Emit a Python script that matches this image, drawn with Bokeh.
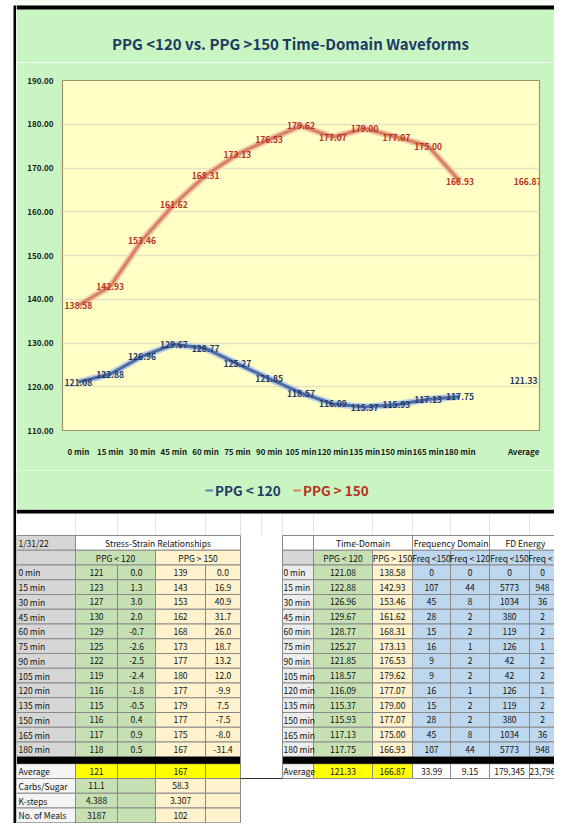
from bokeh.plotting import figure
from bokeh.models import (FactorRange, Range1d, FixedTicker, NumeralTickFormatter,
                          Legend, LegendItem, ColumnDataSource)
from bokeh.layouts import column, row
from bokeh.core.properties import value
from bokeh.embed import file_html
from bokeh.resources import INLINE

# ---------------- data ----------------
times = ["0 min", "15 min", "30 min", "45 min", "60 min", "75 min", "90 min",
         "105 min", "120 min", "135 min", "150 min", "165 min", "180 min"]
ppg_lt120 = [121.08, 122.88, 126.96, 129.67, 128.77, 125.27, 121.85,
             118.57, 116.09, 115.37, 115.93, 117.13, 117.75]
ppg_gt150 = [138.58, 142.93, 153.46, 161.62, 168.31, 173.13, 176.53,
             179.62, 177.07, 179.00, 177.07, 175.00, 166.93]
avg_lt120 = 121.33
avg_gt150 = 166.87
y_ticks = [110, 120, 130, 140, 150, 160, 170, 180, 190]
title_text = "PPG <120 vs. PPG >150 Time-Domain Waveforms"
series_names = ["PPG < 120", "PPG > 150"]

# stress-strain table
ss_lt120 = [121, 123, 127, 130, 129, 125, 122, 119, 116, 115, 116, 117, 118]
ss_lt120_d = [0.0, 1.3, 3.0, 2.0, -0.7, -2.6, -2.5, -2.4, -1.8, -0.5, 0.4, 0.9, 0.5]
ss_gt150 = [139, 143, 153, 162, 168, 173, 177, 180, 177, 179, 177, 175, 167]
ss_gt150_d = [0.0, 16.9, 40.9, 31.7, 26.0, 18.7, 13.2, 12.0, -9.9, 7.5, -7.5, -8.0, -31.4]
ss_avg = [121, 167]
carbs = [11.1, 58.3]
ksteps = [4.388, 3.307]
meals = [3187, 102]

# frequency tables
freq_lt150 = [0, 107, 45, 28, 15, 16, 9, 9, 16, 15, 28, 45, 107]
freq_lt120 = [0, 44, 8, 2, 2, 1, 2, 2, 1, 2, 2, 8, 44]
fd_lt150 = [0, 5773, 1034, 380, 119, 126, 42, 42, 126, 119, 380, 1034, 5773]
fd_lt120 = [0, 948, 36, 2, 2, 1, 2, 2, 1, 2, 2, 36, 948]
right_avg = [121.33, 166.87, 33.99, 9.15, 179345, 23796]

# ---------------- styles ----------------
FONT = "Noto Sans CJK SC"
GREEN_BG = "#c8f5c2"
PLOT_BG = "#ffffc6"
NAVY = "#1f3864"
RED = "#b8301f"
BLUE_LINE = "#4d6ca2"
BLUE_GLOW = "#b9cbe4"
ORANGE_LINE = "#d8835f"
ORANGE_GLOW = "#f2c6ad"
W = 554
H = 823


def blank(width, height, x0, x1, y0, y1, bg):
    f = figure(width=width, height=height, x_range=Range1d(x0, x1), y_range=Range1d(y1, y0),
               x_axis_location=None, y_axis_location=None, min_border=0,
               output_backend="svg", toolbar_location=None,
               background_fill_color=bg, border_fill_color=bg)
    f.grid.visible = False
    f.outline_line_color = None
    return f


# ---------------- left strip ----------------
strip = blank(16, H, 0, 16, 0, H, "white")
strip.quad(left=[13], right=[16], top=[5], bottom=[H], fill_color="black", line_color=None)

# ---------------- title ----------------
tf = blank(W - 16, 62, 16, W, 0, 62, GREEN_BG)
tf.quad(left=[16], right=[W], top=[0], bottom=[5], fill_color="white", line_color=None)
tf.quad(left=[16], right=[W], top=[5], bottom=[9], fill_color="black", line_color=None)
tf.text(x=[290], y=[43], text=[title_text], text_align="center", text_baseline="middle",
        text_font=value(FONT), text_font_size="15px", text_font_style="bold", text_color=NAVY)

# ---------------- chart ----------------
factors = times + [" ", "Average"]
p = figure(width=W - 16, height=408, x_range=FactorRange(factors=factors),
           y_range=Range1d(110, 190), output_backend="svg", toolbar_location=None,
           min_border_left=46, min_border_right=15, min_border_top=18, min_border_bottom=40,
           background_fill_color=PLOT_BG, border_fill_color=GREEN_BG)
p.outline_line_color = "#9c9466"
p.outline_line_width = 1.2
p.xgrid.grid_line_color = None
p.ygrid.grid_line_color = "#e4e4c4"
p.ygrid.grid_line_width = 1.5
p.yaxis.ticker = FixedTicker(ticks=y_ticks)
p.yaxis.formatter = NumeralTickFormatter(format="0.00")
for ax in (p.xaxis[0], p.yaxis[0]):
    ax.axis_line_color = None
    ax.major_tick_line_color = None
    ax.minor_tick_line_color = None
    ax.major_tick_in = 0
    ax.major_tick_out = 0
    ax.major_label_text_font = FONT
    ax.major_label_text_font_size = "8px"
    ax.major_label_text_font_style = "bold"
    ax.major_label_text_color = "#1a1a1a"
p.yaxis.major_label_standoff = 9
p.xaxis.major_label_standoff = 15

p.line(times, ppg_gt150, line_color=ORANGE_GLOW, line_width=7, line_alpha=0.9, line_join="round")
p.line(times, ppg_gt150, line_color=ORANGE_LINE, line_width=3.2, line_join="round")
p.line(times, ppg_lt120, line_color=BLUE_GLOW, line_width=7, line_alpha=0.9, line_join="round")
p.line(times, ppg_lt120, line_color=BLUE_LINE, line_width=3.2, line_join="round")

lab_x = times + ["Average"]
p.text(x=lab_x, y=ppg_gt150 + [avg_gt150], text=[f"{v:.2f}" for v in ppg_gt150 + [avg_gt150]],
       x_offset=[0] * len(times) + [4],
       text_align="center", text_baseline="middle", text_font=value(FONT),
       text_font_size="8.5px", text_font_style="bold", text_color=RED)
p.text(x=lab_x, y=ppg_lt120 + [avg_lt120], text=[f"{v:.2f}" for v in ppg_lt120 + [avg_lt120]],
       text_align="center", text_baseline="middle", text_font=value(FONT),
       text_font_size="8.5px", text_font_style="bold", text_color=NAVY)
chart_row = row(p)

# ---------------- legend strip ----------------
lf = blank(W - 16, 39, 16, W, 470, 509, GREEN_BG)
lg_b = lf.line(x=[0, 1], y=[0, 0], line_color="#5f80b8", line_width=2)
lg_o = lf.line(x=[0, 1], y=[0, 0], line_color="#e27b50", line_width=2)
for r, name, col, loc in ((lg_b, series_names[0], NAVY, (189, 9)),
                          (lg_o, series_names[1], RED, (277, 9))):
    lg = Legend(items=[LegendItem(label=name, renderers=[r])], location=loc,
                glyph_width=8, glyph_height=20, label_standoff=2, padding=0, margin=0,
                border_line_color=None, background_fill_alpha=0,
                label_text_font=FONT, label_text_font_size="13.5px",
                label_text_font_style="bold", label_text_color=col)
    lf.add_layout(lg, "center")

# ---------------- table ----------------
t = blank(W - 16, H - 509, 16, W, 509, H, "white")

GRAY = "#d6d6d6"
LGRAY = "#ececec"
GREEN = "#c6e0b4"
CREAM = "#fff2cc"
BLUE = "#bdd7ee"
YEL = "#ffff00"
CELL_LINE = "#8a8a8a"

L = [16, 75, 117, 155, 205, 240]
R = [282, 313, 372, 412, 450, 489, 529, 575]
RH = 14.75
R1 = 535
R2 = R1 + RH
D0 = R2 + RH
nrows = len(times)
D_END = D0 + RH * nrows
B_END = D_END + 7            # black band
E0 = B_END

cells = dict(left=[], right=[], top=[], bottom=[], fill=[])
def cell(l, r, tp, b, fill):
    cells["left"].append(l); cells["right"].append(r)
    cells["top"].append(tp); cells["bottom"].append(b)
    cells["fill"].append(fill)

txt_c = dict(x=[], y=[], text=[])
txt_l = dict(x=[], y=[], text=[])
def tc(x, y, s):
    txt_c["x"].append(x); txt_c["y"].append(y); txt_c["text"].append(s)
def tl(x, y, s):
    txt_l["x"].append(x); txt_l["y"].append(y); txt_l["text"].append(s)
mid = lambda a, b: (a + b) / 2

gl = dict(x0=[], x1=[], y0=[], y1=[])
for x in L + [261] + R[:-1]:
    gl["x0"].append(x); gl["x1"].append(x); gl["y0"].append(513); gl["y1"].append(R1)

# --- left table
cell(L[0], L[1], R1, R2, GRAY); tl(18, mid(R1, R2), "1/31/22")
cell(L[1], L[5], R1, R2, "white"); tc(mid(L[1], L[5]), mid(R1, R2), "Stress-Strain Relationships")
cell(L[0], L[1], R2, D0, GRAY)
cell(L[1], L[3], R2, D0, GREEN); tc(mid(L[1], L[3]), mid(R2, D0), series_names[0])
cell(L[3], L[5], R2, D0, CREAM); tc(mid(L[3], L[5]), mid(R2, D0), series_names[1])
cols_left = [ss_lt120, ss_lt120_d, ss_gt150, ss_gt150_d]
fmts_left = ["{:d}", "{:.1f}", "{:d}", "{:.1f}"]
fills_left = [GREEN, GREEN, CREAM, CREAM]
for i, name in enumerate(times):
    tp, b = D0 + RH * i, D0 + RH * (i + 1)
    cell(L[0], L[1], tp, b, GRAY); tl(18, mid(tp, b), name)
    for j in range(4):
        cell(L[j + 1], L[j + 2], tp, b, fills_left[j])
        tc(mid(L[j + 1], L[j + 2]), mid(tp, b), fmts_left[j].format(cols_left[j][i]))
extra_rows = [("Average", ss_avg, "{:d}"), ("Carbs/Sugar", carbs, "{:.1f}"),
              ("K-steps", ksteps, "{:.3f}"), ("No. of Meals", meals, "{:d}")]
for k, (name, vals, f) in enumerate(extra_rows):
    tp, b = E0 + RH * k, E0 + RH * (k + 1)
    cell(L[0], L[1], tp, b, "#f4f4f4"); tl(18, mid(tp, b), name)
    for j in range(4):
        fill = YEL if k == 0 else fills_left[j]
        cell(L[j + 1], L[j + 2], tp, b, fill)
    tc(mid(L[1], L[2]), mid(tp, b), f.format(vals[0]))
    tc(mid(L[3], L[4]), mid(tp, b), f.format(vals[1]))

# --- right table
cell(R[0], R[1], R1, R2, "white")
cell(R[1], R[3], R1, R2, "white"); tc(mid(R[1], R[3]), mid(R1, R2), "Time-Domain")
cell(R[3], R[5], R1, R2, "white"); tc(mid(R[3], R[5]), mid(R1, R2), "Frequency Domain")
cell(R[5], R[7], R1, R2, "white"); tc(525, mid(R1, R2), "FD Energy")
cell(R[0], R[1], R2, D0, GRAY)
heads = ["PPG < 120", "PPG > 150", "Freq <150", "Freq < 120", "Freq <150", "Freq < 120"]
fills_right = [GREEN, CREAM, BLUE, BLUE, BLUE, BLUE]
centers_right = [mid(R[j + 1], R[j + 2]) for j in range(5)] + [542]
for j, h in enumerate(heads):
    cell(R[j + 1], R[j + 2], R2, D0, fills_right[j])
    tc(centers_right[j] if j < 5 else 548, mid(R2, D0), h)
cols_right = [ppg_lt120, ppg_gt150, freq_lt150, freq_lt120, fd_lt150, fd_lt120]
fmts_right = ["{:.2f}", "{:.2f}", "{:d}", "{:d}", "{:d}", "{:d}"]
for i, name in enumerate(times):
    tp, b = D0 + RH * i, D0 + RH * (i + 1)
    cell(R[0], R[1], tp, b, LGRAY); tl(283, mid(tp, b), name)
    for j in range(6):
        cell(R[j + 1], R[j + 2], tp, b, fills_right[j])
        tc(centers_right[j], mid(tp, b), fmts_right[j].format(cols_right[j][i]))
tp, b = E0, E0 + RH
cell(R[0], R[1], tp, b, "#f4f4f4"); tl(283, mid(tp, b), "Average")
fmts_avg = ["{:.2f}", "{:.2f}", "{:.2f}", "{:.2f}", "{:,d}", "{:,d}"]
for j in range(6):
    cell(R[j + 1], R[j + 2], tp, b, YEL if j < 2 else "white")
    tc(centers_right[j], mid(tp, b), fmts_avg[j].format(right_avg[j]))

t.segment(x0="x0", x1="x1", y0="y0", y1="y1", source=ColumnDataSource(gl),
          line_color="#e4e4e4", line_width=1)
t.quad(left="left", right="right", top="top", bottom="bottom", fill_color="fill",
       line_color=CELL_LINE, line_width=1, source=ColumnDataSource(cells))
t.line(x=[240, 282], y=[E0 + RH, E0 + RH], line_color="#303030", line_width=1)

bands = dict(left=[16, L[0], R[0]], right=[W, L[5], W],
             top=[509, D_END, D_END], bottom=[513, B_END, B_END])
t.quad(left="left", right="right", top="top", bottom="bottom", source=ColumnDataSource(bands),
       fill_color="black", line_color=None)

t.text(x="x", y="y", text="text", source=ColumnDataSource(txt_c), text_align="center",
       text_baseline="middle", text_font=value(FONT), text_font_size="8.5px", text_color="#111111")
t.text(x="x", y="y", text="text", source=ColumnDataSource(txt_l), text_align="left",
       text_baseline="middle", text_font=value(FONT), text_font_size="8.5px", text_color="#111111")

layout = row(strip, column(tf, chart_row, lf, t, spacing=0), spacing=0)
open("out.html", "w").write(file_html(layout, INLINE))
